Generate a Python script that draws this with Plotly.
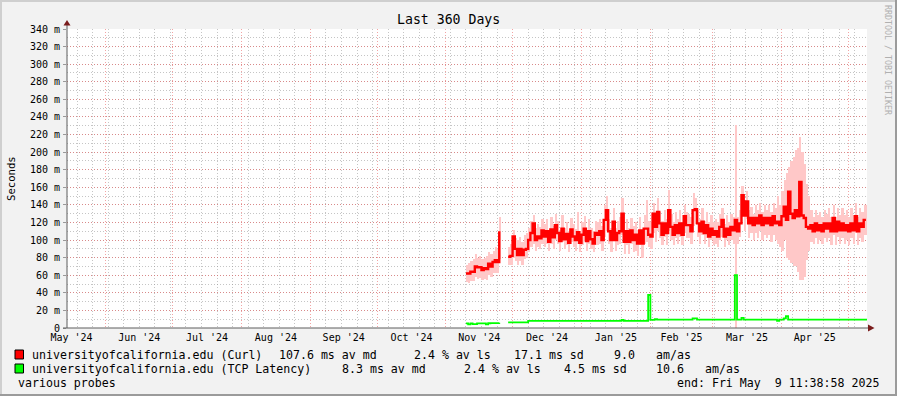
import plotly.graph_objects as go
import pandas as pd

# ---------------- data ----------------
x_start = "2024-05-14 11:38:58"
x_end = "2025-05-09 11:38:58"

curl_first_day = "2024-11-10"
curl_median = [
    62, 62, 64, 64, 70, 69, 69, 66, 68, 67, 73, 70, 75, 77, 75, 110,
    None, None, None,
    81, 82, 104, 90, 83, 90, 83, 89, 90, 100, 108, 119, 100, 104, 102, 111, 104, 110, 98, 112, 103,
    117, 108, 99, 113, 101, 107, 97, 112, 104, 100, 109, 97, 106, 113, 99, 110, 101, 96, 108,
    106, 110, 100, 123, 134, 110, 100, 121, 100, 108, 110, 130, 98, 110, 98, 111, 100, 106, 96, 111,
    96, 113, 113, 106, 104, 130, 115, 132, 119, 106, 119, 108, 134, 115, 106, 117, 108, 119, 106, 127,
    117, 117, 110, 134, 135, 119, 110, 121, 108, 117, 104, 113, 106, 110, 104, 115, 123, 104, 113, 106, 115,
    111, 123, 110, 119, 151, 128, 144, 119, 125, 117, 125, 119, 128, 117, 125, 119, 125, 117, 127, 119,
    121, 117, 127, 138, 123, 155, 130, 125, 134, 127, 166, 128, 125, 115, 113, 117, 110, 119, 111, 117,
    110, 119, 113, 119, 110, 125, 110, 121, 111, 119, 111, 117, 110, 119, 111, 127, 110, 119, 115, 123, 123,
]
curl_smoke_hi = [
    72, 74, 76, 78, 84, 80, 82, 78, 80, 82, 86, 84, 88, 92, 90, 126,
    None, None, None,
    92, 95, 112, 102, 100, 104, 98, 106, 108, 114, 122, 128, 114, 118, 115, 124, 118, 124, 112, 126,
    116, 130, 122, 112, 128, 114, 120, 110, 125, 118, 113, 132, 110, 120, 127, 112, 124, 114, 110, 122,
    120, 124, 116, 140, 150, 124, 114, 136, 114, 122, 126, 148, 112, 124, 114, 125, 116, 120, 112, 126,
    112, 128, 146, 122, 120, 142, 130, 148, 132, 122, 134, 124, 157, 130, 120, 132, 124, 134, 120, 140,
    132, 130, 126, 153, 148, 134, 124, 136, 122, 132, 120, 128, 120, 124, 120, 130, 136, 118, 128, 120, 130,
    126, 231, 126, 134, 162, 142, 156, 134, 138, 130, 140, 134, 142, 132, 140, 134, 140, 132, 142, 136,
    150, 140, 156, 168, 176, 183, 190, 195, 202, 205, 217, 200, 187, 164, 150, 134, 126, 134, 128, 132,
    126, 134, 130, 136, 126, 140, 126, 136, 128, 136, 128, 134, 126, 136, 128, 142, 126, 136, 132, 140, 140,
]
curl_smoke_lo = [
    52, 51, 54, 53, 58, 56, 57, 55, 56, 55, 60, 58, 62, 63, 62, 78,
    None, None, None,
    72, 72, 80, 76, 72, 76, 72, 78, 80, 86, 92, 96, 88, 92, 90, 96, 92, 96, 88, 96,
    90, 100, 96, 88, 98, 90, 94, 86, 98, 92, 88, 95, 86, 94, 99, 88, 96, 90, 86, 94,
    94, 96, 88, 104, 110, 96, 86, 104, 88, 94, 96, 106, 84, 94, 84, 96, 86, 88, 82, 94,
    80, 96, 98, 92, 90, 108, 98, 110, 102, 94, 104, 94, 110, 100, 94, 102, 96, 104, 94, 108,
    102, 102, 96, 116, 118, 104, 96, 106, 96, 102, 92, 100, 94, 96, 92, 100, 104, 92, 100, 94, 100,
    96, 0, 96, 104, 130, 110, 124, 102, 108, 100, 108, 102, 110, 100, 106, 102, 106, 98, 106, 100,
    96, 92, 88, 100, 80, 77, 74, 70, 70, 64, 55, 55, 58, 77, 88, 98, 96, 102, 96, 100,
    96, 102, 98, 102, 94, 106, 94, 104, 96, 102, 96, 100, 94, 102, 96, 108, 94, 102, 98, 106, 106,
]

tcp_dates = [
    "2024-11-10", "2024-11-11", "2024-11-12", "2024-11-13", "2024-11-15", "2024-11-19",
    "2024-11-20", "2024-11-21", "2024-11-25", "2024-11-26", "2024-11-29", "2024-12-08",
    "2025-01-19", "2025-01-20", "2025-01-31", "2025-02-01", "2025-02-03", "2025-02-04",
    "2025-02-20", "2025-02-22", "2025-03-11", "2025-03-12", "2025-03-14", "2025-03-15",
    "2025-03-30", "2025-03-31", "2025-04-02", "2025-04-03", "2025-04-04", "2025-05-09 11:38:00",
]
tcp_values = [
    5.3, 4.2, 5.3, 4.3, 5.3, 4.2,
    5.4, 5.6, 6.0, None, 6.4, 8.0,
    9.1, 8.2, 37.5, 9.3, 10.2, 9.5,
    11.0, 9.5, 60.0, 9.5, 11.4, 9.5,
    8.0, 9.5, 11.0, 13.6, 9.5, 9.5,
]

y_tick_vals = [0, 20, 40, 60, 80, 100, 120, 140, 160, 180, 200, 220, 240, 260, 280, 300, 320, 340]
y_tick_text = ["0", "20 m", "40 m", "60 m", "80 m", "100 m", "120 m", "140 m", "160 m", "180 m",
               "200 m", "220 m", "240 m", "260 m", "280 m", "300 m", "320 m", "340 m"]

legend_rows = [
    ["universityofcalifornia.edu (Curl)", "107.6 ms av md", "2.4 % av ls", "17.1 ms sd", "9.0", "am/as"],
    ["universityofcalifornia.edu (TCP Latency)", "8.3 ms av md", "2.4 % av ls", "4.5 ms sd", "10.6", "am/as"],
]
legend_colors = ["#ff0000", "#00ff00"]

# ---------------- layout geometry (pixels) ----------------
W, H = 897, 396
L, R, T, B = 67, 867, 29, 328
PW, PH = R - L, B - T


def px(x):
    return (x - L) / PW


def py(y):
    return (B - y) / PH


MONO = "DejaVu Sans Mono"

curl_dates = pd.date_range(curl_first_day, periods=len(curl_median), freq="D")
smoke_base = curl_smoke_lo
smoke_height = [None if (h is None or l is None) else h - l for h, l in zip(curl_smoke_hi, curl_smoke_lo)]

fig = go.Figure()

fig.add_trace(go.Bar(
    x=curl_dates, y=smoke_height, base=smoke_base,
    width=86400000, offset=0,
    marker=dict(color="#ffc8c8", line=dict(width=0)),
    hoverinfo="skip", showlegend=False,
))
fig.add_trace(go.Scatter(
    x=curl_dates, y=curl_median, mode="lines",
    line=dict(color="#ff0000", width=2.4, shape="hv"),
    connectgaps=False, showlegend=False,
))
fig.add_trace(go.Scatter(
    x=tcp_dates, y=tcp_values, mode="lines",
    line=dict(color="#00ff00", width=1.8, shape="hv"),
    connectgaps=False, showlegend=False,
))

major_grid = "rgba(232,90,90,0.55)"
minor_grid = "rgba(150,150,150,0.55)"

fig.update_layout(
    width=W, height=H,
    margin=dict(l=L, r=W - R, t=T, b=H - B),
    paper_bgcolor="#f2f2f2",
    plot_bgcolor="#ffffff",
    barmode="overlay",
    bargap=0,
    showlegend=False,
    font=dict(family=MONO, color="#000000", size=10),
    xaxis=dict(
        type="date",
        range=[x_start, x_end],
        tickmode="linear", dtick="M1", tick0="2024-05-01",
        tickformat="%b '%y",
        ticklabelmode="period",
        ticklabelstandoff=2,
        showgrid=True, gridcolor=major_grid, griddash="1px,2px", gridwidth=1,
        minor=dict(dtick=604800000, tick0="2024-05-19", showgrid=True,
                   gridcolor=minor_grid, griddash="1px,2px", gridwidth=1),
        ticks="", showline=False, zeroline=False,
        tickfont=dict(family=MONO, size=10, color="#000000"),
        fixedrange=True,
    ),
    yaxis=dict(
        range=[0, 340],
        tickmode="array", tickvals=y_tick_vals, ticktext=y_tick_text,
        showgrid=True, gridcolor=major_grid, griddash="1px,2px", gridwidth=1,
        minor=dict(tickmode="linear", tick0=0, dtick=10, showgrid=True,
                   gridcolor=minor_grid, griddash="1px,2px", gridwidth=1),
        ticks="outside", ticklen=3, tickcolor="#999999",
        ticklabelstandoff=1,
        showline=False, zeroline=False,
        tickfont=dict(family=MONO, size=10, color="#000000"),
        fixedrange=True,
    ),
)

shapes = []
# outer frame
shapes.append(dict(type="line", xref="paper", yref="paper", x0=px(0), x1=px(W), y0=py(1), y1=py(1),
                   line=dict(color="#cfcfcf", width=2)))
shapes.append(dict(type="line", xref="paper", yref="paper", x0=px(1), x1=px(1), y0=py(0), y1=py(H),
                   line=dict(color="#cfcfcf", width=2)))
shapes.append(dict(type="line", xref="paper", yref="paper", x0=px(0), x1=px(W), y0=py(H - 1), y1=py(H - 1),
                   line=dict(color="#9b9b9b", width=2)))
shapes.append(dict(type="line", xref="paper", yref="paper", x0=px(W - 1), x1=px(W - 1), y0=py(0), y1=py(H),
                   line=dict(color="#9b9b9b", width=2)))
# axes with arrows
shapes.append(dict(type="line", xref="paper", yref="paper", x0=px(67), x1=px(67), y0=py(B), y1=py(25),
                   line=dict(color="#5c5c5c", width=1)))
shapes.append(dict(type="line", xref="paper", yref="paper", x0=px(63), x1=px(868), y0=py(B), y1=py(B),
                   line=dict(color="#5c5c5c", width=1)))
shapes.append(dict(type="path", xref="paper", yref="paper",
                   path=f"M {px(63.5)},{py(25.5)} L {px(70.5)},{py(25.5)} L {px(67)},{py(20)} Z",
                   fillcolor="#7a1c1c", line=dict(width=0)))
shapes.append(dict(type="path", xref="paper", yref="paper",
                   path=f"M {px(868)},{py(324.5)} L {px(868)},{py(331.5)} L {px(874.5)},{py(328)} Z",
                   fillcolor="#7a1c1c", line=dict(width=0)))
# legend swatches
for i, c in enumerate(legend_colors):
    y0 = 350 + 14 * i
    shapes.append(dict(type="rect", xref="paper", yref="paper",
                       x0=px(15), x1=px(23.5), y0=py(y0), y1=py(y0 + 9),
                       fillcolor=c, line=dict(color="#000000", width=1)))
fig.update_layout(shapes=shapes)

ann = []


def text(x, y, s, size=11.6, xanchor="left", color="#000000", angle=0, yanchor="middle"):
    ann.append(dict(x=px(x), y=py(y), xref="paper", yref="paper", text=s, showarrow=False,
                    xanchor=xanchor, yanchor=yanchor, textangle=angle,
                    font=dict(family=MONO, size=size, color=color)))


text(448, 19, "Last 360 Days", size=13.2, xanchor="center")
text(11, 178, "Seconds", size=10.6, xanchor="center", angle=-90)
text(888, 60, "RRDTOOL / TOBI OETIKER", size=8.3, xanchor="center", color="#b0b0b0", angle=90)

col_x = [
    [30, 277, 412, 512, 612, 654],
    [30, 340, 462, 562, 654, 703],
]
for r, row in enumerate(legend_rows):
    for c, s in enumerate(row):
        text(col_x[r][c], 354.5 + 14 * r, s)
text(16, 382.5, "various probes")
text(881, 382.5, "end: Fri May\u00a0\u00a09 11:38:58 2025", xanchor="right")

fig.update_layout(annotations=ann)

fig.write_html(
    "out.html",
    config={"displayModeBar": False, "staticPlot": True},
    post_script="document.body.style.margin='0';document.body.style.overflow='hidden';",
)
